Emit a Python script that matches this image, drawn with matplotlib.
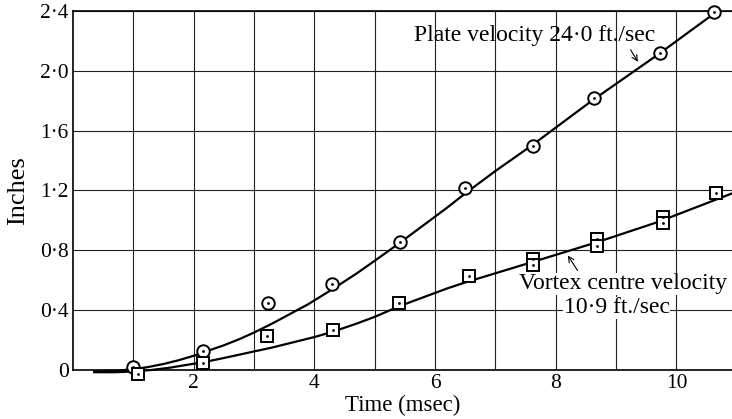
import matplotlib
matplotlib.use('Agg')
import matplotlib.pyplot as plt

plt.rcParams['font.family'] = ['Liberation Serif', 'DejaVu Serif']

# measured points (time in msec, displacement in inches)
plate_t = [1.0, 2.15, 3.23, 4.30, 5.42, 6.50, 7.63, 8.64, 9.72, 10.62]
plate_y = [0.02, 0.13, 0.45, 0.575, 0.855, 1.215, 1.50, 1.82, 2.12, 2.39]

vortex_t = [1.08, 2.15, 3.21, 4.31, 5.41, 6.56, 7.63, 7.63, 8.69, 8.69, 9.77, 9.77, 10.66]
vortex_y = [-0.03, 0.045, 0.225, 0.27, 0.445, 0.628, 0.745, 0.70, 0.875, 0.83, 1.02, 0.98, 1.18]

# faired curves
plate_curve_t = [0.35, 0.7, 1.0, 1.25, 1.5, 1.75, 2.0, 2.25, 2.5, 2.75, 3.0, 3.3, 3.6, 3.9,
                 4.3, 4.7, 5.0, 5.4, 5.8, 6.2, 6.5, 7.0, 7.6, 8.6, 9.7, 10.65]
plate_curve_y = [-0.01, -0.005, 0.005, 0.02, 0.04, 0.065, 0.095, 0.13, 0.165, 0.205, 0.25, 0.31, 0.375, 0.44,
                 0.54, 0.645, 0.73, 0.845, 0.965, 1.085, 1.18, 1.33, 1.50, 1.80, 2.11, 2.39]

vortex_curve_t = [0.35, 0.7, 1.0, 1.3, 1.6, 1.9, 2.2, 2.5, 2.9, 3.3, 3.7, 4.0, 4.3, 4.7,
                  5.0, 5.4, 5.8, 6.2, 6.5, 7.07, 7.6, 8.7, 9.7, 10.92]
vortex_curve_y = [-0.015, -0.015, -0.01, 0.0, 0.015, 0.035, 0.055, 0.08, 0.115, 0.15, 0.19, 0.22, 0.255, 0.31,
                  0.355, 0.425, 0.485, 0.545, 0.585, 0.655, 0.72, 0.856, 0.99, 1.18]

xticks = [2, 4, 6, 8, 10]
yticks = [0, 0.4, 0.8, 1.2, 1.6, 2.0, 2.4]
ylabels = ['0', '0·4', '0·8', '1·2', '1·6', '2·0', '2·4']

fig = plt.figure(figsize=(7.32, 4.19), dpi=100)
ax = fig.add_axes([0.0997, 0.117, 0.9003, 0.857])

ax.set_xlim(0, 10.92)
ax.set_ylim(0, 2.4)

# grid every msec and every 0.4 in
for gx in range(1, 11):
    ax.axvline(gx, color='#222222', lw=0.8, zorder=1)
for gy in yticks[1:]:
    ax.axhline(gy, color='#222222', lw=0.8, zorder=1)

ax.plot(plate_curve_t, plate_curve_y, color='black', lw=1.6, zorder=2, clip_on=False)
ax.plot(vortex_curve_t, vortex_curve_y, color='black', lw=1.6, zorder=2, clip_on=False)

ax.plot(plate_t, plate_y, 'o', ms=9, mfc='white', mec='black', mew=1.4, zorder=3, clip_on=False)
ax.plot(plate_t, plate_y, '.', ms=2, color='black', zorder=4, clip_on=False)
ax.plot(vortex_t, vortex_y, 's', ms=9, mfc='white', mec='black', mew=1.4, zorder=3, clip_on=False)
ax.plot(vortex_t, vortex_y, '.', ms=2, color='black', zorder=4, clip_on=False)

ax.text(7.65, 2.235, 'Plate velocity 24·0 ft./sec', fontsize=17, ha='center', va='center', zorder=5)
ax.annotate('', xy=(9.36, 2.06), xytext=(9.24, 2.14),
            arrowprops=dict(arrowstyle='->', color='black', lw=0.8, shrinkA=0, shrinkB=0), zorder=5)

ax.text(9.12, 0.575, 'Vortex centre velocity', fontsize=17, ha='center', va='center', zorder=5,
        bbox=dict(facecolor='white', edgecolor='none', pad=0.3))
ax.text(9.01, 0.415, '10·9 ft./sec', fontsize=17, ha='center', va='center', zorder=5,
        bbox=dict(facecolor='white', edgecolor='none', pad=0.3))
ax.annotate('', xy=(8.2, 0.765), xytext=(8.36, 0.665),
            arrowprops=dict(arrowstyle='->', color='black', lw=0.8, shrinkA=0, shrinkB=0), zorder=5)

ax.set_xticks(xticks)
ax.set_yticks(yticks)
ax.set_yticklabels(ylabels)
ax.tick_params(length=0, labelsize=15.5, pad=3)
ax.spines['right'].set_visible(False)
for s in ['left', 'bottom', 'top']:
    ax.spines[s].set_linewidth(1.2)

ax.set_xlabel('Time (msec)', fontsize=16.5, labelpad=1)
ax.set_ylabel('Inches', fontsize=19, labelpad=8)

fig.savefig('out.png', dpi=100)
